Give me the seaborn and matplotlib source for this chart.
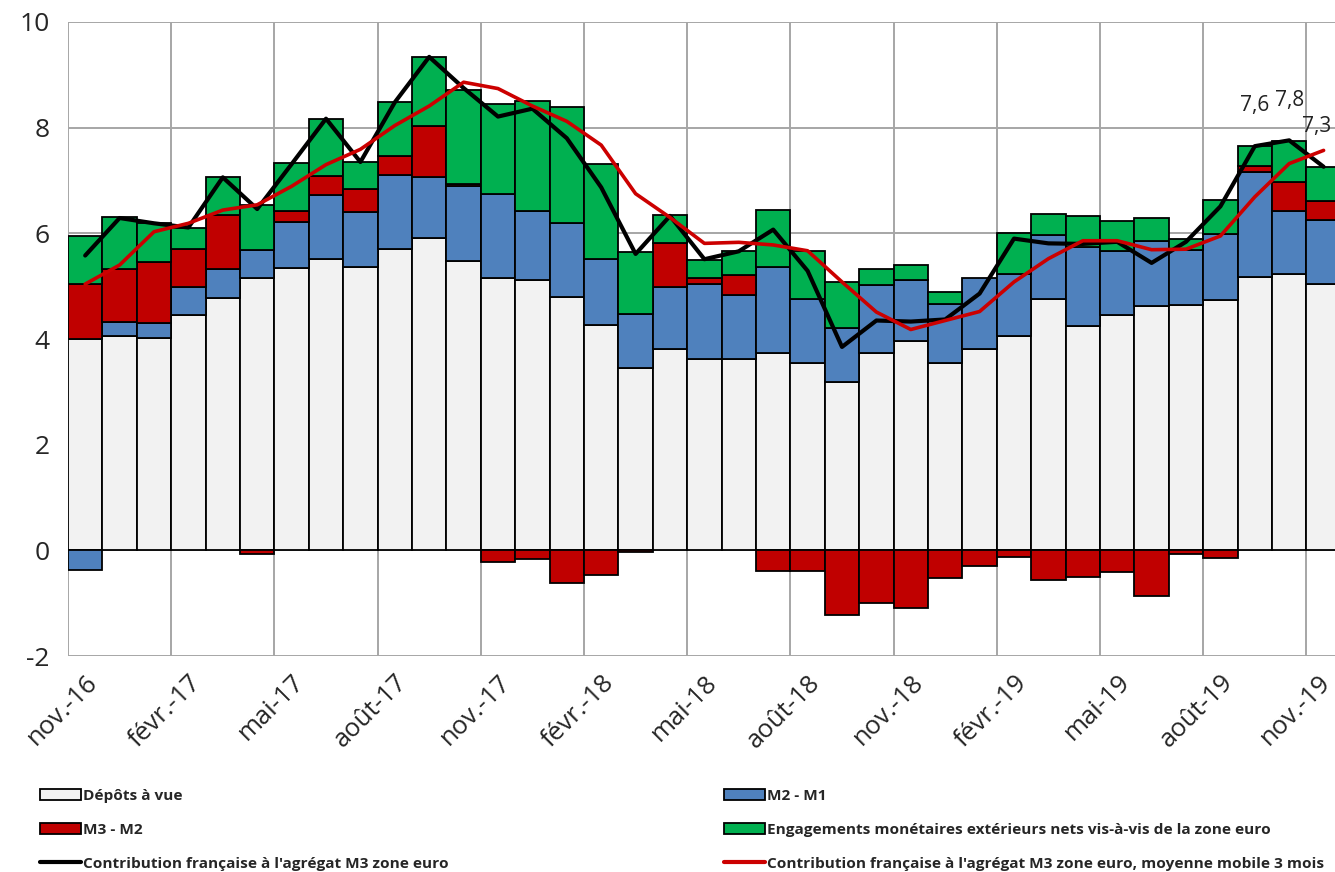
import matplotlib
matplotlib.use("Agg")
import matplotlib.pyplot as plt
import matplotlib.transforms as mtransforms
from matplotlib.patches import Patch
from matplotlib.lines import Line2D
import numpy as np
import seaborn as sns

# Monthly data, nov-16 .. nov-19 (contributions, points de %)
tick_labels = ["nov.-16", "févr.-17", "mai-17", "août-17", "nov.-17", "févr.-18", "mai-18",
               "août-18", "nov.-18", "févr.-19", "mai-19", "août-19", "nov.-19"]

depots = [4.00, 4.05, 4.01, 4.45, 4.78, 5.15, 5.35, 5.51, 5.37, 5.70, 5.92, 5.48, 5.15,
          5.12, 4.79, 4.26, 3.45, 3.81, 3.62, 3.62, 3.74, 3.54, 3.19, 3.74, 3.96, 3.54,
          3.82, 4.05, 4.75, 4.24, 4.46, 4.63, 4.65, 4.73, 5.18, 5.23, 5.04]
m2m1 = [-0.37, 0.27, 0.29, 0.53, 0.55, 0.53, 0.86, 1.21, 1.04, 1.40, 1.15, 1.42, 1.59,
        1.30, 1.40, 1.25, 1.03, 1.18, 1.42, 1.22, 1.63, 1.21, 1.01, 1.28, 1.16, 1.13,
        1.34, 1.18, 1.22, 1.50, 1.20, 1.22, 1.03, 1.26, 1.98, 1.19, 1.21]
m3m2 = [1.04, 1.01, 1.16, 0.72, 1.01, -0.07, 0.21, 0.36, 0.42, 0.36, 0.96, 0.03, -0.22,
        -0.16, -0.62, -0.47, -0.04, 0.82, 0.12, 0.37, -0.39, -0.39, -1.23, -0.99, -1.09, -0.53,
        -0.30, -0.12, -0.57, -0.51, -0.41, -0.86, -0.07, -0.14, 0.12, 0.55, 0.37]
engag = [0.91, 0.97, 0.73, 0.41, 0.72, 0.86, 0.91, 1.09, 0.52, 1.03, 1.31, 1.79, 1.71,
         2.09, 2.21, 1.81, 1.16, 0.54, 0.33, 0.45, 1.08, 0.92, 0.88, 0.31, 0.29, 0.22,
         0.00, 0.78, 0.40, 0.58, 0.57, 0.44, 0.21, 0.65, 0.37, 0.78, 0.64]
contrib = [5.58, 6.29, 6.19, 6.11, 7.06, 6.46, 7.31, 8.17, 7.35, 8.48, 9.34, 8.75, 8.21,
           8.36, 7.80, 6.87, 5.61, 6.33, 5.51, 5.66, 6.07, 5.29, 3.85, 4.35, 4.33, 4.37,
           4.86, 5.90, 5.81, 5.80, 5.84, 5.44, 5.84, 6.51, 7.65, 7.76, 7.26]
contrib_mm3 = [5.04, 5.40, 6.03, 6.19, 6.44, 6.54, 6.89, 7.30, 7.59, 8.04, 8.41, 8.86, 8.74,
               8.41, 8.12, 7.67, 6.75, 6.30, 5.81, 5.83, 5.78, 5.67, 5.08, 4.51, 4.18, 4.35,
               4.52, 5.08, 5.52, 5.86, 5.86, 5.69, 5.70, 5.95, 6.69, 7.32, 7.57]
last_labels = ["7,6", "7,8", "7,3"]

names = ["Dépôts à vue", "M2 - M1", "M3 - M2",
         "Engagements monétaires extérieurs nets vis-à-vis de la zone euro",
         "Contribution française à l'agrégat M3 zone euro",
         "Contribution française à l'agrégat M3 zone euro, moyenne mobile 3 mois"]
colors = ["#F2F2F2", "#4F81BD", "#C00000", "#00B050"]

sns.set_theme(style="white")
plt.rcParams['font.family'] = ['Open Sans', 'DejaVu Sans']
plt.rcParams['axes.unicode_minus'] = False

fig = plt.figure(figsize=(13.35, 8.72), dpi=100)
ax = fig.add_axes([68 / 1335, 1 - 656 / 872, 1267 / 1335, 634 / 872])

n = len(depots)
x = np.arange(n)
pos_base = np.zeros(n)
neg_base = np.zeros(n)
for vals, col in zip([depots, m2m1, m3m2, engag], colors):
    v = np.array(vals)
    bottom = np.where(v >= 0, pos_base, neg_base)
    keep = v != 0
    ax.bar(x[keep], v[keep], bottom=bottom[keep], width=1.0, color=col,
           edgecolor="black", linewidth=1.3, zorder=2)
    pos_base += np.clip(v, 0, None)
    neg_base += np.clip(v, None, 0)

sns.lineplot(x=x, y=contrib, color="black", linewidth=3, ax=ax, zorder=4)
sns.lineplot(x=x, y=contrib_mm3, color="#CC0000", linewidth=2.6, ax=ax, zorder=5)

for k, (i, lab) in enumerate(zip(range(n - 3, n), last_labels)):
    dx = -5 if k == 2 else 0
    ax.annotate(lab, (i, contrib[i]), xytext=(dx, 29), textcoords="offset points",
                ha="center", va="center", fontsize=15, color="#222222")

ax.set_xlim(-0.5, -0.5 + 1267 / 34.4)
ax.set_ylim(-2, 10)
ax.set_yticks(range(-2, 11, 2))
ax.set_xticks(x[::3])
ax.set_xticklabels(tick_labels, rotation=45, ha="right", rotation_mode="anchor", fontsize=18.5)
ax.set_xticks(x[::3] - 0.5, minor=True)
ax.tick_params(axis="y", labelsize=19, length=0, pad=13)
ax.tick_params(axis="x", which="both", length=0, pad=10)
ax.grid(False)
ax.grid(True, axis="y", color="#A6A6A6", linewidth=1.4, zorder=0)
ax.grid(True, axis="x", which="minor", color="#A6A6A6", linewidth=1.4, zorder=0)
ax.set_axisbelow(True)
for s in ax.spines.values():
    s.set_visible(False)

# keep the last date label inside the picture
last = ax.get_xticklabels()[-1]
last.set_transform(last.get_transform() + mtransforms.ScaledTranslation(-6 / 100, 0, fig.dpi_scale_trans))

h = [Patch(facecolor=c, edgecolor="black", linewidth=1.3) for c in colors]
h += [Line2D([], [], color="black", linewidth=3), Line2D([], [], color="#CC0000", linewidth=3)]
leg_kw = dict(frameon=False, loc="upper left", borderpad=0, borderaxespad=0,
              handlelength=2.65, handleheight=0.75, handletextpad=0.15, labelspacing=1.28,
              prop={"family": "Open Sans", "weight": "bold", "size": 11.1})
fig.legend([h[0], h[2], h[4]], [names[0], names[2], names[4]],
           bbox_to_anchor=(40 / 1335, 1 - 789 / 872), **leg_kw)
fig.legend([h[1], h[3], h[5]], [names[1], names[3], names[5]],
           bbox_to_anchor=(724 / 1335, 1 - 789 / 872), **leg_kw)

fig.savefig("out.png", dpi=100)
